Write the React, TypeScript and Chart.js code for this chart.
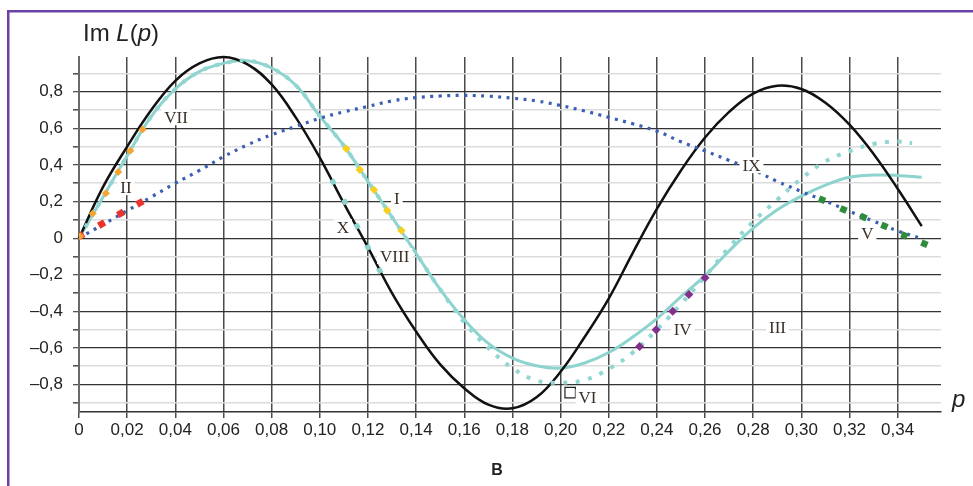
import React, { useEffect, useRef } from "react";
import { Chart, registerables } from "chart.js";

Chart.register(...registerables);

// ---- axis ticks ----
const xTicks = [0, 0.02, 0.04, 0.06, 0.08, 0.1, 0.12, 0.14, 0.16, 0.18, 0.2, 0.22, 0.24, 0.26, 0.28, 0.3, 0.32, 0.34];
const xTickLabels = ["0", "0,02", "0,04", "0,06", "0,08", "0,10", "0,12", "0,14", "0,16", "0,18", "0,20", "0,22", "0,24", "0,26", "0,28", "0,30", "0,32", "0,34"];
const yTicks = [-0.9, -0.8, -0.7, -0.6, -0.5, -0.4, -0.3, -0.2, -0.1, 0, 0.1, 0.2, 0.3, 0.4, 0.5, 0.6, 0.7, 0.8, 0.9];
const yTickLabels = ["", "–0,8", "", "–0,6", "", "–0,4", "", "–0,2", "", "0", "", "0,2", "", "0,4", "", "0,6", "", "0,8", ""];

// ---- black curve ----
const blackP = [0, 0.01, 0.02, 0.03, 0.04, 0.05, 0.06, 0.07, 0.08, 0.09, 0.1, 0.11, 0.12, 0.13, 0.14, 0.15, 0.16, 0.17, 0.18, 0.19, 0.2, 0.21, 0.22, 0.23, 0.24, 0.25, 0.26, 0.27, 0.28, 0.29, 0.3, 0.31, 0.32, 0.33, 0.34, 0.35];
const blackIm = [0, 0.28, 0.5, 0.7, 0.86, 0.955, 0.99, 0.95, 0.84, 0.66, 0.44, 0.19, -0.05, -0.3, -0.51, -0.69, -0.82, -0.91, -0.93, -0.87, -0.73, -0.54, -0.33, -0.08, 0.16, 0.37, 0.55, 0.69, 0.79, 0.833, 0.815, 0.74, 0.62, 0.46, 0.27, 0.066];

// ---- solid light-teal curve ----
const tealP = [0, 0.01, 0.02, 0.03, 0.04, 0.05, 0.06, 0.07, 0.08, 0.09, 0.1, 0.11, 0.12, 0.13, 0.14, 0.15, 0.16, 0.17, 0.18, 0.19, 0.2, 0.21, 0.22, 0.23, 0.24, 0.25, 0.26, 0.27, 0.28, 0.29, 0.3, 0.31, 0.32, 0.33, 0.34, 0.35];
const tealIm = [0, 0.225, 0.45, 0.665, 0.815, 0.91, 0.955, 0.97, 0.93, 0.836, 0.667, 0.505, 0.31, 0.115, -0.083, -0.28, -0.445, -0.575, -0.655, -0.697, -0.71, -0.682, -0.625, -0.54, -0.44, -0.32, -0.205, -0.07, 0.055, 0.155, 0.23, 0.29, 0.333, 0.345, 0.343, 0.333];

// ---- dotted light-teal curve ----
const tealDotP = [0, 0.01, 0.02, 0.03, 0.04, 0.05, 0.06, 0.07, 0.08, 0.09, 0.1, 0.11, 0.12, 0.13, 0.14, 0.15, 0.16, 0.17, 0.18, 0.19, 0.2, 0.21, 0.22, 0.23, 0.24, 0.25, 0.26, 0.27, 0.28, 0.29, 0.3, 0.31, 0.32, 0.33, 0.34, 0.346];
const tealDotIm = [0, 0.225, 0.45, 0.665, 0.815, 0.91, 0.955, 0.97, 0.93, 0.836, 0.667, 0.505, 0.31, 0.115, -0.083, -0.28, -0.46, -0.6, -0.71, -0.778, -0.79, -0.775, -0.715, -0.625, -0.5, -0.36, -0.21, -0.05, 0.09, 0.21, 0.325, 0.42, 0.475, 0.515, 0.528, 0.52];

// ---- blue dotted curve (IX) ----
const blueP = [0, 0.01, 0.02, 0.03, 0.04, 0.05, 0.06, 0.07, 0.08, 0.09, 0.1, 0.11, 0.12, 0.13, 0.14, 0.15, 0.16, 0.17, 0.18, 0.19, 0.2, 0.21, 0.22, 0.23, 0.24, 0.25, 0.26, 0.27, 0.28, 0.29, 0.3, 0.31, 0.32, 0.33, 0.34, 0.35];
const blueIm = [0, 0.075, 0.15, 0.225, 0.3, 0.37, 0.445, 0.51, 0.565, 0.61, 0.655, 0.69, 0.72, 0.75, 0.768, 0.777, 0.78, 0.776, 0.765, 0.75, 0.725, 0.695, 0.66, 0.625, 0.585, 0.527, 0.477, 0.425, 0.373, 0.31, 0.255, 0.203, 0.147, 0.093, 0.04, -0.003];

// ---- marker series ----
const redP = [0.0007, 0.0094, 0.0173, 0.0253];
const redIm = [0.013, 0.077, 0.135, 0.193];
const orangeP = [0.0005, 0.0057, 0.0112, 0.0163, 0.0213, 0.0264];
const orangeIm = [0.01, 0.135, 0.246, 0.361, 0.477, 0.594];
const yellowP = [0.111, 0.1166, 0.1225, 0.128, 0.1339];
const yellowIm = [0.489, 0.374, 0.264, 0.151, 0.042];
const xDotsP = [0.1055, 0.1104, 0.1155, 0.12, 0.1249];
const xDotsIm = [0.308, 0.198, 0.066, -0.05, -0.177];
const purpleP = [0.2328, 0.2397, 0.2466, 0.2533, 0.26];
const purpleIm = [-0.592, -0.5, -0.4, -0.308, -0.216];
const greenP = [0.3086, 0.3175, 0.3258, 0.3345, 0.3428, 0.3511];
const greenIm = [0.21, 0.157, 0.115, 0.066, 0.015, -0.031];
const squareP = [0.204];
const squareIm = [-0.844];

// ---- curve labels (data coordinates) ----
const labelTexts = ["VII", "II", "I", "X", "VIII", "IX", "V", "III", "IV", "VI"];
const labelP = [0.0403, 0.0195, 0.132, 0.1096, 0.1311, 0.2793, 0.3274, 0.2901, 0.2507, 0.2112];
const labelIm = [0.661, 0.279, 0.219, 0.06, -0.098, 0.399, 0.027, -0.486, -0.497, -0.869];

const pts = (xs: number[], ys: number[]) => xs.map((x, i) => ({ x, y: ys[i] }));

const SANS = "'Liberation Sans', Arial, sans-serif";
const SERIF = "'Liberation Serif', 'Times New Roman', serif";

const decorPlugin = {
  id: "decor",
  afterDraw(chart: any) {
    const ctx = chart.ctx as CanvasRenderingContext2D;
    const xs = chart.scales.x;
    const ys = chart.scales.y;
    ctx.save();
    // frame
    ctx.fillStyle = "#6b42a3";
    ctx.fillRect(7, 10, 2.5, 476);
    ctx.fillRect(7, 10, 966, 2.5);

    // curve labels
    ctx.font = `17px ${SERIF}`;
    ctx.textAlign = "center";
    ctx.textBaseline = "middle";
    labelTexts.forEach((t, i) => {
      const px = xs.getPixelForValue(labelP[i]);
      const py = ys.getPixelForValue(labelIm[i]);
      const w = ctx.measureText(t).width;
      ctx.fillStyle = "#ffffff";
      ctx.fillRect(px - w / 2 - 3, py - 8, w + 6, 16);
      ctx.fillStyle = "#3b3128";
      ctx.fillText(t, px, py + 1);
    });

    // axis titles
    ctx.textAlign = "left";
    ctx.textBaseline = "alphabetic";
    ctx.fillStyle = "#222";
    let x = 83;
    const yb = 41;
    const parts: [string, boolean][] = [["Im ", false], ["L", true], ["(", false], ["p", true], [")", false]];
    parts.forEach(([s, it]) => {
      ctx.font = `${it ? "italic " : ""}24px ${SANS}`;
      ctx.fillText(s, x, yb);
      x += ctx.measureText(s).width;
    });
    ctx.font = `italic 24px ${SANS}`;
    ctx.fillText("p", 952, 407);

    ctx.font = `bold 16px ${SANS}`;
    ctx.textAlign = "center";
    ctx.fillText("В", 497, 475);
    ctx.restore();
  },
};

export default function App() {
  const ref = useRef<HTMLCanvasElement | null>(null);
  useEffect(() => {
    if (!ref.current) return;
    const teal = "#8dd3ce";
    const chart = new Chart(ref.current, {
      type: "scatter",
      data: {
        datasets: [
          { label: "VI", data: pts(squareP, squareIm), pointStyle: "rect", pointRadius: 7.4, backgroundColor: "#ffffff", borderColor: "#222", borderWidth: 1.2, showLine: false, order: 0 } as any,
          { label: "I", data: pts(yellowP, yellowIm), pointStyle: "rectRot", pointRadius: 4.2, backgroundColor: "#f8cf1e", borderWidth: 0, showLine: false, order: 1 } as any,
          { label: "II", data: pts(orangeP, orangeIm), pointStyle: "rectRot", pointRadius: 4, backgroundColor: "#f6a531", borderWidth: 0, showLine: false, order: 1 } as any,
          { label: "red", data: pts(redP, redIm), pointStyle: "rect", pointRadius: 4.8, rotation: -30, backgroundColor: "#e8342c", borderWidth: 0, showLine: false, order: 1 } as any,
          { label: "IV", data: pts(purpleP, purpleIm), pointStyle: "rectRot", pointRadius: 4.5, backgroundColor: "#82308c", borderWidth: 0, showLine: false, order: 1 } as any,
          { label: "V", data: pts(greenP, greenIm), pointStyle: "rect", pointRadius: 4.6, rotation: 23, backgroundColor: "#2f8c3b", borderWidth: 0, showLine: false, order: 1 } as any,
          { label: "X", data: pts(xDotsP, xDotsIm), pointStyle: "rect", pointRadius: 3.8, rotation: 62, backgroundColor: teal, borderWidth: 0, showLine: false, order: 1 } as any,
          { label: "IX", data: pts(blueP, blueIm), showLine: true, borderColor: "#3b5fb2", borderWidth: 3.2, borderDash: [3, 5.5], pointRadius: 0, tension: 0.4, order: 2 } as any,
          { label: "tealDot", data: pts(tealDotP, tealDotIm), showLine: true, borderColor: "#90d6d1", borderWidth: 4, borderDash: [4, 8.5], pointRadius: 0, tension: 0.4, order: 3 } as any,
          { label: "black", data: pts(blackP, blackIm), showLine: true, borderColor: "#111111", borderWidth: 2.5, pointRadius: 0, tension: 0.4, clip: 6, order: 4 } as any,
          { label: "teal", data: pts(tealP, tealIm), showLine: true, borderColor: teal, borderWidth: 3, pointRadius: 0, tension: 0.4, clip: 6, order: 5 } as any,
        ],
      },
      options: {
        responsive: false,
        animation: false,
        events: [],
        layout: { padding: { left: 0, right: 32, top: 57, bottom: 44 } },
        plugins: { legend: { display: false }, tooltip: { enabled: false } },
        scales: {
          x: {
            type: "linear",
            min: 0,
            max: 0.358,
            afterBuildTicks: (s: any) => {
              s.ticks = xTicks.map((v) => ({ value: v }));
            },
            afterFit: (s: any) => {
              s.height = 30;
            },
            ticks: {
              callback: (_v: any, i: number) => xTickLabels[i],
              font: { family: SANS, size: 17 },
              color: "#222",
              padding: 2,
              maxRotation: 0,
              autoSkip: false,
            },
            grid: { color: "#4a4a4a", lineWidth: 1.5, tickLength: 6, tickColor: "#4a4a4a" },
            border: { display: true, color: "#333", width: 1.5 },
          },
          y: {
            type: "linear",
            min: -0.95,
            max: 0.99,
            afterBuildTicks: (s: any) => {
              s.ticks = yTicks.map((v) => ({ value: v }));
            },
            afterFit: (s: any) => {
              s.width = 79;
            },
            ticks: {
              callback: (_v: any, i: number) => yTickLabels[i],
              font: { family: SANS, size: 17 },
              color: "#222",
              padding: 10,
              autoSkip: false,
            },
            grid: {
              color: (c: any) => (yTickLabels[c.index] ? "#333333" : "#dcdcdc"),
              lineWidth: (c: any) => (yTickLabels[c.index] ? 1.3 : 1.6),
              tickColor: "#555",
              tickLength: 6,
            },
            border: { display: true, color: "#6a6a6a", width: 2 },
          },
        },
      },
      plugins: [decorPlugin],
    });
    return () => chart.destroy();
  }, []);
  return (
    <div style={{ position: "fixed", left: 0, top: 0, width: 973, height: 486, background: "#fff" }}>
      <canvas ref={ref} width={973} height={486} style={{ display: "block" }} />
    </div>
  );
}
